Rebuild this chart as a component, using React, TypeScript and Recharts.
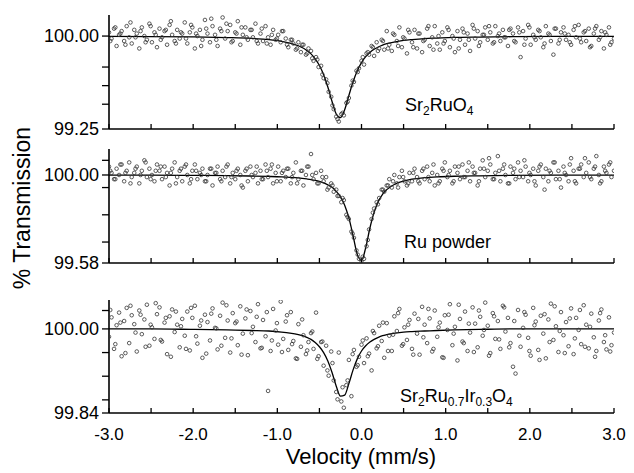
import React from 'react';
import { ComposedChart, Scatter, Line, XAxis, YAxis } from 'recharts';

// Doppler velocity of each channel (mm/s), first sweep
const velocity = [
  -3, -2.97, -2.94, -2.91, -2.88, -2.85, -2.82, -2.79, -2.76, -2.73,
  -2.7, -2.67, -2.64, -2.61, -2.58, -2.55, -2.52, -2.49, -2.46, -2.43,
  -2.4, -2.37, -2.34, -2.31, -2.28, -2.25, -2.22, -2.19, -2.16, -2.13,
  -2.1, -2.07, -2.04, -2.01, -1.98, -1.95, -1.92, -1.89, -1.86, -1.83,
  -1.8, -1.77, -1.74, -1.71, -1.68, -1.65, -1.62, -1.59, -1.56, -1.53,
  -1.5, -1.47, -1.44, -1.41, -1.38, -1.35, -1.32, -1.29, -1.26, -1.23,
  -1.2, -1.17, -1.14, -1.11, -1.08, -1.05, -1.02, -0.99, -0.96, -0.93,
  -0.9, -0.87, -0.84, -0.81, -0.78, -0.75, -0.72, -0.69, -0.66, -0.63,
  -0.6, -0.57, -0.54, -0.51, -0.48, -0.45, -0.42, -0.39, -0.36, -0.33,
  -0.3, -0.27, -0.24, -0.21, -0.18, -0.15, -0.12, -0.09, -0.06, -0.03,
  0, 0.03, 0.06, 0.09, 0.12, 0.15, 0.18, 0.21, 0.24, 0.27,
  0.3, 0.33, 0.36, 0.39, 0.42, 0.45, 0.48, 0.51, 0.54, 0.57,
  0.6, 0.63, 0.66, 0.69, 0.72, 0.75, 0.78, 0.81, 0.84, 0.87,
  0.9, 0.93, 0.96, 0.99, 1.02, 1.05, 1.08, 1.11, 1.14, 1.17,
  1.2, 1.23, 1.26, 1.29, 1.32, 1.35, 1.38, 1.41, 1.44, 1.47,
  1.5, 1.53, 1.56, 1.59, 1.62, 1.65, 1.68, 1.71, 1.74, 1.77,
  1.8, 1.83, 1.86, 1.89, 1.92, 1.95, 1.98, 2.01, 2.04, 2.07,
  2.1, 2.13, 2.16, 2.19, 2.22, 2.25, 2.28, 2.31, 2.34, 2.37,
  2.4, 2.43, 2.46, 2.49, 2.52, 2.55, 2.58, 2.61, 2.64, 2.67,
  2.7, 2.73, 2.76, 2.79, 2.82, 2.85, 2.88, 2.91, 2.94, 2.97,
  3,
];

// Doppler velocity of the interleaved channels (mm/s), second sweep
const velocityB = [
  -2.985, -2.925, -2.865, -2.805, -2.745, -2.685, -2.625, -2.565, -2.505, -2.445,
  -2.385, -2.325, -2.265, -2.205, -2.145, -2.085, -2.025, -1.965, -1.905, -1.845,
  -1.785, -1.725, -1.665, -1.605, -1.545, -1.485, -1.425, -1.365, -1.305, -1.245,
  -1.185, -1.125, -1.065, -1.005, -0.945, -0.885, -0.825, -0.765, -0.705, -0.645,
  -0.585, -0.525, -0.465, -0.405, -0.345, -0.285, -0.225, -0.165, -0.105, -0.045,
  0.015, 0.075, 0.135, 0.195, 0.255, 0.315, 0.375, 0.435, 0.495, 0.555,
  0.615, 0.675, 0.735, 0.795, 0.855, 0.915, 0.975, 1.035, 1.095, 1.155,
  1.215, 1.275, 1.335, 1.395, 1.455, 1.515, 1.575, 1.635, 1.695, 1.755,
  1.815, 1.875, 1.935, 1.995, 2.055, 2.115, 2.175, 2.235, 2.295, 2.355,
  2.415, 2.475, 2.535, 2.595, 2.655, 2.715, 2.775, 2.835, 2.895, 2.955,
];

// Sr2RuO4 measured transmission (%)
const sr2ruo4 = [
  100.03, 99.98, 100.06, 99.92, 100.01, 100.04, 99.96, 100.08, 99.99, 99.94,
  100.05, 100.02, 99.9, 100.07, 100.0, 99.97, 100.1, 99.95, 100.03, 99.91,
  100.06, 99.99, 100.04, 99.93, 100.09, 100.01, 99.96, 100.05, 99.98, 100.02,
  100.11, 99.94, 100.03, 100.07, 99.9, 100.0, 100.05, 99.97, 100.13, 100.02,
  99.95, 100.08, 100.01, 99.92, 100.06, 100.15, 99.98, 100.04, 100.09, 99.96,
  100.03, 100.12, 99.93, 100.01, 100.07, 99.97, 100.05, 99.99, 100.1, 99.94,
  100.02, 99.96, 100.08, 99.99, 99.93, 100.05, 99.97, 100.01, 99.95, 100.04,
  99.98, 99.91, 99.97, 99.94, 99.89, 99.95, 99.87, 99.93, 99.85, 99.9,
  99.88, 99.8, 99.83, 99.75, 99.76, 99.66, 99.65, 99.55, 99.51, 99.41,
  99.35, 99.31, 99.37, 99.36, 99.46, 99.5, 99.6, 99.63, 99.72, 99.74,
  99.8, 99.77, 99.86, 99.85, 99.92, 99.84, 99.95, 99.9, 99.97, 99.89,
  100.04, 99.93, 99.88, 100.01, 99.96, 100.07, 99.91, 99.98, 99.86, 100.03,
  99.95, 100.05, 99.9, 100.02, 99.87, 99.97, 100.06, 99.92, 99.99, 100.08,
  99.94, 99.89, 100.03, 99.96, 100.07, 99.91, 100.0, 99.87, 100.04, 99.97,
  100.06, 99.93, 100.02, 99.88, 100.09, 99.98, 100.04, 99.95, 100.01, 100.07,
  99.97, 100.03, 99.94, 100.08, 100.0, 99.96, 100.05, 99.99, 99.92, 100.06,
  100.02, 99.95, 100.07, 99.83, 100.04, 99.98, 100.09, 99.93, 100.01, 99.97,
  100.05, 99.99, 99.91, 100.08, 100.02, 99.96, 99.85, 100.06, 99.94, 100.03,
  100.07, 99.97, 100.01, 99.93, 100.05, 99.99, 100.09, 99.95, 100.03, 99.96,
  100.06, 99.92, 100.02, 100.08, 99.97, 100.04, 99.9, 100.01, 100.07, 99.95,
  99.98,
];
const sr2ruo4B = [
  99.96, 100.07, 100.02, 99.93, 100.11, 99.99, 100.04, 99.95, 100.08, 100.01,
  99.97, 100.05, 100.12, 99.94, 100.03, 99.98, 100.09, 100.02, 99.92, 100.06,
  100.14, 99.97, 100.04, 100.1, 99.95, 100.02, 100.07, 99.99, 100.05, 99.96,
  100.06, 99.94, 100.01, 99.98, 100.04, 99.93, 99.97, 99.9, 99.93, 99.86,
  99.82, 99.81, 99.69, 99.62, 99.44, 99.33, 99.38, 99.47, 99.64, 99.71,
  99.83, 99.87, 99.91, 99.88, 99.96, 99.9, 100.02, 99.92, 99.99, 100.05,
  99.91, 100.02, 99.96, 100.08, 99.89, 100.0, 99.94, 100.05, 99.98, 99.9,
  100.03, 99.97, 100.06, 99.92, 100.01, 100.08, 99.95, 100.02, 99.99, 100.05,
  99.96, 100.03, 99.93, 100.07, 99.99, 100.04, 99.94, 100.01, 100.06, 99.97,
  100.02, 99.95, 100.08, 99.98, 100.04, 99.91, 100.06, 99.99, 100.03, 99.93,
];

// Ru powder measured transmission (%)
const ruPowder = [
  100.04, 100.01, 99.98, 100.03, 100.0, 100.05, 99.97, 100.02, 100.06, 99.99,
  100.01, 100.04, 99.96, 100.02, 100.07, 99.99, 100.03, 100.0, 99.97, 100.05,
  100.02, 99.98, 100.04, 100.01, 99.95, 100.03, 100.06, 99.99, 100.02, 99.97,
  100.04, 100.0, 99.96, 100.02, 100.05, 99.98, 100.01, 100.03, 99.97, 100.0,
  100.03, 99.95, 100.01, 100.04, 99.98, 100.02, 99.99, 100.05, 99.96, 100.01,
  99.98, 100.03, 100.0, 99.94, 100.02, 99.97, 100.04, 99.99, 100.01, 99.96,
  100.02, 99.98, 100.05, 99.99, 100.03, 99.96, 100.01, 100.04, 99.97, 100.02,
  99.99, 100.03, 99.96, 100.01, 100.06, 99.98, 100.02, 99.95, 100.0, 100.04,
  100.1, 99.98, 100.01, 99.96, 100.02, 99.97, 99.99, 99.94, 99.96, 99.92,
  99.93, 99.9, 99.87, 99.88, 99.81, 99.79, 99.73, 99.7, 99.64, 99.6,
  99.59, 99.6, 99.66, 99.74, 99.79, 99.84, 99.87, 99.89, 99.93, 99.92,
  99.95, 99.98, 99.94, 100.0, 99.96, 99.99, 100.02, 99.97, 99.95, 100.01,
  99.97, 100.03, 99.99, 99.96, 100.02, 99.98, 100.04, 99.97, 100.01, 99.95,
  100.0, 99.97, 100.03, 100.06, 99.99, 100.02, 99.96, 100.04, 100.01, 99.98,
  100.05, 99.99, 100.02, 99.97, 100.04, 100.01, 99.95, 100.03, 100.07, 99.99,
  100.02, 100.05, 99.98, 100.01, 100.09, 99.97, 100.03, 100.0, 99.96, 100.04,
  100.01, 99.98, 100.06, 100.02, 99.99, 100.04, 99.97, 100.0, 100.03, 99.95,
  100.02, 100.05, 99.99, 100.03, 99.97, 100.01, 100.06, 99.98, 100.02, 99.94,
  100.04, 100.0, 99.97, 100.08, 100.02, 99.96, 100.03, 100.05, 99.99, 100.01,
  100.06, 99.98, 100.03, 100.09, 100.0, 99.97, 100.04, 100.01, 100.05, 99.99,
  100.02,
];
const ruPowderB = [
  100.02, 99.98, 100.05, 100.01, 99.96, 100.03, 100.0, 100.06, 99.98, 100.02,
  100.04, 99.99, 100.01, 99.96, 100.03, 100.05, 99.98, 100.02, 100.0, 99.97,
  100.03, 100.01, 99.97, 100.04, 99.99, 100.02, 99.95, 100.03, 100.0, 100.04,
  99.98, 100.02, 100.05, 99.97, 100.01, 100.03, 99.99, 99.96, 100.02, 100.04,
  100.0, 99.96, 99.99, 99.93, 99.95, 99.9, 99.89, 99.8, 99.72, 99.62,
  99.61, 99.69, 99.82, 99.86, 99.93, 99.95, 99.97, 99.94, 99.99, 99.96,
  100.01, 99.97, 100.03, 99.99, 100.05, 99.96, 100.02, 100.0, 99.97, 100.04,
  99.99, 100.06, 100.01, 99.97, 100.03, 100.08, 99.98, 100.02, 100.05, 99.96,
  100.03, 99.99, 100.07, 100.01, 99.97, 100.04, 99.93, 100.02, 100.06, 99.98,
  100.01, 100.05, 99.97, 100.03, 100.08, 99.99, 100.04, 99.96, 100.02, 100.06,
];

// Sr2Ru0.7Ir0.3O4 measured transmission (%)
const sr2ruIrO4 = [
  99.985, 100.022, 99.962, 100.007, 100.031, 99.948, 100.015, 100.04, 99.973, 100.026,
  100.009, 99.957, 100.035, 99.99, 100.018, 100.046, 99.968, 100.003, 99.981, 100.028,
  100.041, 99.976, 100.012, 99.952, 100.024, 100.037, 99.994, 100.008, 99.965, 100.019,
  99.987, 100.033, 99.959, 100.021, 100.044, 99.972, 100.006, 99.945, 100.027, 100.013,
  99.978, 100.039, 100.002, 99.961, 100.025, 100.05, 99.983, 100.016, 99.955, 100.03,
  100.011, 99.969, 100.043, 99.991, 100.02, 99.95, 100.034, 100.004, 99.975, 100.047,
  99.963, 100.017, 99.986, 99.882, 99.958, 100.038, 99.997, 99.97, 100.052, 99.981,
  100.014, 99.96, 100.032, 99.977, 99.944, 100.009, 99.966, 99.988, 99.952, 99.975,
  99.992, 99.962, 100.031, 99.948, 99.975, 99.93, 99.968, 99.911, 99.957, 99.902,
  99.88, 99.955, 99.862, 99.85, 99.893, 99.941, 99.872, 99.96, 99.928, 99.947,
  99.97, 99.935, 99.982, 99.953, 99.921, 99.992, 99.963, 100.006, 99.977, 99.945,
  100.011, 99.987, 99.958, 100.024, 99.996, 100.038, 99.968, 100.003, 99.979, 100.017,
  99.962, 100.029, 99.991, 99.951, 100.042, 100.008, 99.973, 100.02, 99.957, 100.035,
  99.985, 100.012, 99.946, 100.026, 99.998, 100.047, 99.969, 100.004, 99.94, 100.019,
  99.976, 100.033, 99.958, 99.993, 100.041, 100.01, 99.965, 100.023, 99.987, 100.05,
  100.006, 99.954, 100.03, 99.981, 100.015, 99.962, 100.044, 99.995, 100.021, 99.973,
  99.928, 99.915, 100.036, 99.966, 100.002, 100.027, 99.983, 99.949, 100.04, 100.014,
  99.96, 100.025, 99.991, 99.944, 100.018, 100.048, 99.979, 100.005, 99.956, 100.032,
  99.988, 100.013, 99.967, 100.039, 99.952, 100.021, 99.998, 99.971, 100.045, 100.008,
  99.963, 100.029, 99.984, 99.958, 100.016, 100.037, 99.975, 99.961, 100.022, 99.969,
  99.993,
];
const sr2ruIrO4B = [
  100.036, 99.971, 100.012, 99.954, 100.044, 99.993, 100.027, 99.966, 100.008, 100.049,
  99.979, 100.021, 99.947, 100.033, 100.005, 99.962, 100.04, 99.986, 100.016, 99.953,
  100.029, 100.001, 99.968, 100.045, 99.982, 100.014, 99.951, 100.037, 99.992, 100.023,
  99.964, 100.032, 99.978, 100.011, 99.956, 100.026, 99.971, 99.943, 100.018, 99.959,
  99.995, 99.943, 99.976, 99.921, 99.935, 99.866, 99.889, 99.902, 99.952, 99.931,
  99.978, 99.948, 99.996, 99.967, 100.012, 99.958, 99.989, 100.03, 99.971, 100.008,
  99.951, 100.019, 99.984, 100.038, 99.962, 100.003, 99.945, 100.027, 99.991, 100.046,
  99.973, 100.01, 99.956, 100.035, 99.998, 99.949, 100.024, 99.98, 100.041, 99.965,
  100.015, 99.987, 100.032, 99.958, 100.007, 99.941, 100.028, 99.975, 100.043, 99.996,
  99.954, 100.02, 99.982, 100.036, 99.966, 100.004, 99.947, 100.03, 99.988, 99.957,
];

// Fitted Lorentzian curves
const fitVelocity = [
  -3, -2.5, -2, -1.6, -1.3, -1.1, -0.95, -0.85, -0.75, -0.65, -0.6, -0.55, -0.5,
  -0.45, -0.4, -0.35, -0.3, -0.25, -0.2, -0.15, -0.1, -0.05, 0, 0.05, 0.1, 0.15,
  0.2, 0.25, 0.3, 0.4, 0.5, 0.6, 0.75, 0.9, 1.1, 1.4, 1.8, 2.3, 3,
];
const fitSr2RuO4 = [
  99.997, 99.996, 99.993, 99.988, 99.981, 99.971, 99.958, 99.944, 99.922, 99.884, 99.856, 99.816, 99.762,
  99.688, 99.589, 99.472, 99.371, 99.342, 99.406, 99.52, 99.631, 99.72, 99.786, 99.834, 99.868, 99.893,
  99.912, 99.927, 99.938, 99.954, 99.965, 99.972, 99.98, 99.984, 99.989, 99.992, 99.995, 99.997, 99.998,
];
const fitRu = [
  99.999, 99.999, 99.998, 99.997, 99.995, 99.993, 99.991, 99.989, 99.986, 99.981, 99.978, 99.974, 99.969,
  99.962, 99.953, 99.941, 99.922, 99.896, 99.856, 99.795, 99.71, 99.621, 99.592, 99.653, 99.747, 99.822,
  99.874, 99.908, 99.93, 99.957, 99.971, 99.98, 99.987, 99.991, 99.994, 99.996, 99.998, 99.999, 99.999,
];
const fitSr2RuIrO4 = [
  100.0, 100.0, 99.999, 99.998, 99.997, 99.996, 99.994, 99.992, 99.989, 99.984, 99.98, 99.974, 99.966,
  99.955, 99.939, 99.917, 99.891, 99.872, 99.874, 99.896, 99.922, 99.943, 99.958, 99.968, 99.975, 99.98,
  99.984, 99.987, 99.989, 99.992, 99.994, 99.995, 99.996, 99.997, 99.998, 99.999, 100.0, 100.0, 100.0,
];

const xTicks = [-3, -2.5, -2, -1.5, -1, -0.5, 0, 0.5, 1, 1.5, 2, 2.5, 3];
const yTicks1 = [99.25, 99.45, 99.6, 99.75, 100];
const yTicks2 = [99.58, 99.68, 99.81, 99.94, 100, 100.07];
const yTicks3 = [99.84, 99.865, 99.91, 99.955, 100, 100.035];
const yLabels1 = { 100: '100.00', 99.25: '99.25' } as Record<string, string>;
const yLabels2 = { 100: '100.00', 99.58: '99.58' } as Record<string, string>;
const yLabels3 = { 100: '100.00', 99.84: '99.84' } as Record<string, string>;

const FONT = 'Arial, "Liberation Sans", Helvetica, sans-serif';

const toPoints = (a: number[], b: number[]) => [
  ...velocity.map((v, i) => ({ v, y: a[i] })),
  ...velocityB.map((v, i) => ({ v, y: b[i] })),
];
const toFit = (ys: number[]) => fitVelocity.map((v, i) => ({ v, y: ys[i] }));

const Dot = (p: any) => (
  <circle cx={p.cx} cy={p.cy} r={1.8} fill="none" stroke="#333" strokeWidth={0.8} />
);

type PanelProps = {
  top: number;
  marginTop: number;
  plotHeight: number;
  axisHeight: number;
  domain: [number, number];
  yTicks: number[];
  yLabels: Record<string, string>;
  points: { v: number; y: number }[];
  fit: number[];
  showX: boolean;
};

function Panel(props: PanelProps) {
  const { top, marginTop, plotHeight, axisHeight, domain, yTicks, yLabels, points, fit, showX } = props;
  const height = marginTop + plotHeight + axisHeight;
  return (
    <div style={{ position: 'absolute', left: 0, top }}>
      <ComposedChart width={634} height={height} margin={{ top: marginTop, right: 20, bottom: 0, left: 0 }}>
        <XAxis
          type="number"
          dataKey="v"
          domain={[-3, 3]}
          ticks={xTicks}
          interval={0}
          allowDataOverflow
          height={axisHeight}
          tickSize={-5}
          tickMargin={showX ? 20 : 2}
          axisLine={{ stroke: '#000', strokeWidth: 1.6 }}
          tickLine={{ stroke: '#000', strokeWidth: 1.3 }}
          tick={{ fill: '#000', fontSize: 17, fontFamily: FONT }}
          tickFormatter={(t: number) => (showX && Number.isInteger(t) ? t.toFixed(1) : '')}
        />
        <YAxis
          type="number"
          dataKey="y"
          domain={domain}
          ticks={yTicks}
          interval={0}
          allowDataOverflow
          width={109}
          tickSize={7}
          tickMargin={3}
          axisLine={{ stroke: '#000', strokeWidth: 1.6 }}
          tickLine={{ stroke: '#000', strokeWidth: 1.3 }}
          tick={{ fill: '#000', fontSize: 18, fontFamily: FONT }}
          tickFormatter={(t: number) => yLabels[String(t)] ?? ''}
        />
        <Scatter data={points} dataKey="y" shape={Dot} isAnimationActive={false} />
        <Line
          data={toFit(fit)}
          dataKey="y"
          type="monotone"
          dot={false}
          stroke="#000"
          strokeWidth={1.3}
          isAnimationActive={false}
        />
      </ComposedChart>
    </div>
  );
}

const labelStyle: React.CSSProperties = {
  position: 'absolute',
  fontFamily: FONT,
  fontSize: 18,
  color: '#000',
  whiteSpace: 'nowrap',
  lineHeight: '18px',
};
const subStyle: React.CSSProperties = { fontSize: 12, verticalAlign: '-4px', lineHeight: 0 };

export default function App() {
  return (
    <div style={{ position: 'absolute', left: 0, top: 0, width: 634, height: 473, background: '#fff' }}>
      <Panel top={0} marginTop={15} plotHeight={114} axisHeight={10} domain={[99.25, 100.17]}
        yTicks={yTicks1} yLabels={yLabels1} points={toPoints(sr2ruo4, sr2ruo4B)} fit={fitSr2RuO4} showX={false} />
      <Panel top={140} marginTop={9} plotHeight={114} axisHeight={10} domain={[99.58, 100.124]}
        yTicks={yTicks2} yLabels={yLabels2} points={toPoints(ruPowder, ruPowderB)} fit={fitRu} showX={false} />
      <Panel top={280} marginTop={20} plotHeight={113} axisHeight={40} domain={[99.84, 100.055]}
        yTicks={yTicks3} yLabels={yLabels3} points={toPoints(sr2ruIrO4, sr2ruIrO4B)} fit={fitSr2RuIrO4} showX={true} />

      <div style={{ ...labelStyle, left: 405, top: 96 }}>
        Sr<sub style={subStyle}>2</sub>RuO<sub style={subStyle}>4</sub>
      </div>
      <div style={{ ...labelStyle, left: 404, top: 233 }}>Ru powder</div>
      <div style={{ ...labelStyle, left: 400, top: 387 }}>
        Sr<sub style={subStyle}>2</sub>Ru<sub style={subStyle}>0.7</sub>Ir<sub style={subStyle}>0.3</sub>O<sub style={subStyle}>4</sub>
      </div>

      <div
        style={{
          position: 'absolute', left: 22, top: 208, transform: 'translate(-50%, -50%) rotate(-90deg)',
          fontFamily: FONT, fontSize: 23, whiteSpace: 'nowrap', color: '#000', lineHeight: '23px',
        }}
      >
        % Transmission
      </div>
      <div
        style={{
          position: 'absolute', left: 361, top: 457, transform: 'translate(-50%, -50%)',
          fontFamily: FONT, fontSize: 22, whiteSpace: 'nowrap', color: '#000', lineHeight: '22px',
        }}
      >
        Velocity (mm/s)
      </div>
    </div>
  );
}
